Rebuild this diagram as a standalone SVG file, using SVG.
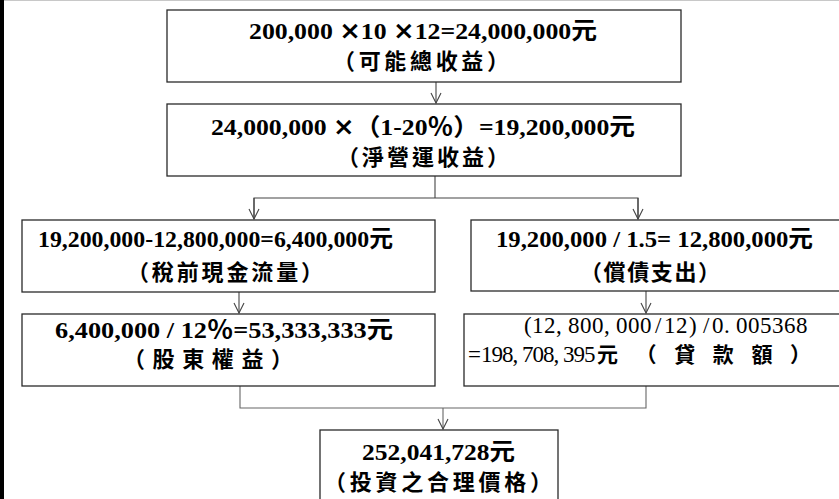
<svg xmlns="http://www.w3.org/2000/svg" width="839" height="499" viewBox="0 0 839 499">
<style>
.box{fill:#fff;stroke:#2a2a2a;stroke-width:1.3}
.t1{font-family:"Liberation Serif","Noto Sans CJK TC",serif;font-weight:bold;font-size:24px;fill:#000;text-anchor:middle}
.x{font-family:"DejaVu Sans",sans-serif;font-weight:bold}
.t2{font-family:"Noto Sans CJK TC","Liberation Serif",sans-serif;font-weight:bold;font-size:22px;fill:#000;text-anchor:middle}
.tm{font-family:"Liberation Serif",serif;font-size:23px;fill:#000}
.tc{font-family:"Noto Sans CJK TC",serif;font-weight:bold;font-size:21px;fill:#000}
.con{fill:none;stroke:#444;stroke-width:1.1}
.con2{fill:none;stroke:#666;stroke-width:1.1}
</style>
<defs>
<marker id="arr" viewBox="-11 -6 12 12" refX="0" refY="0" markerWidth="12" markerHeight="12" markerUnits="userSpaceOnUse" orient="auto">
<path d="M-10,-5 L0,0 L-10,5" fill="none" stroke="#444" stroke-width="1.1"/>
</marker>
</defs>
<rect x="0" y="0" width="839" height="499" fill="#fff"/>
<rect x="0" y="0" width="4" height="499" fill="#000"/>
<line x1="4" y1="0.5" x2="839" y2="0.5" stroke="#c8c8c8" stroke-width="1"/>

<g id="connectors">
<line class="con" x1="436" y1="82" x2="436" y2="103" marker-end="url(#arr)"/>
<polyline class="con" points="435,176 435,198"/>
<polyline class="con" points="254,219 254,198 638,198 638,219"/>
<line class="con" x1="254" y1="198" x2="254" y2="219" marker-end="url(#arr)"/>
<line class="con" x1="638" y1="198" x2="638" y2="219" marker-end="url(#arr)"/>
<line class="con" x1="239" y1="292" x2="239" y2="313" marker-end="url(#arr)"/>
<line class="con" x1="646" y1="291" x2="646" y2="313" marker-end="url(#arr)"/>
<polyline class="con2" points="240,386 240,408 646,408 646,386"/>
<line class="con2" x1="443" y1="408" x2="443" y2="429" marker-end="url(#arr)"/>
</g>

<g id="n1">
<rect class="box" x="167" y="10" width="514" height="72"/>
<text class="t1" x="423" y="39" textLength="348" lengthAdjust="spacingAndGlyphs">200,000 <tspan class="x">×</tspan>10 <tspan class="x">×</tspan>12=24,000,000元</text>
<text class="t2" x="421" y="69" textLength="176" lengthAdjust="spacing">（可能總收益）</text>
</g>

<g id="n2">
<rect class="box" x="167" y="104" width="514" height="72"/>
<text class="t1" x="423" y="135" textLength="424" lengthAdjust="spacingAndGlyphs">24,000,000 <tspan class="x">×</tspan>（1-20％）=19,200,000元</text>
<text class="t2" x="423" y="165" textLength="172" lengthAdjust="spacing">（淨營運收益）</text>
</g>

<g id="n3">
<rect class="box" x="22" y="220" width="413" height="72"/>
<text class="t1" x="215.5" y="247" textLength="355" lengthAdjust="spacingAndGlyphs">19,200,000-12,800,000=6,400,000元</text>
<text class="t2" x="225" y="280" textLength="196" lengthAdjust="spacing">（稅前現金流量）</text>
</g>

<g id="n4">
<rect class="box" x="471" y="220" width="380" height="71"/>
<text class="t1" x="654.5" y="247" textLength="317" lengthAdjust="spacingAndGlyphs">19,200,000 / 1.5= 12,800,000元</text>
<text class="t2" x="650" y="280" textLength="140" lengthAdjust="spacing">（償債支出）</text>
</g>

<g id="n5">
<rect class="box" x="22" y="314" width="413" height="72"/>
<text class="t1" x="224" y="338" textLength="338" lengthAdjust="spacingAndGlyphs">6,400,000 / 12％=53,333,333元</text>
<text class="t2" x="208" y="367" textLength="170" lengthAdjust="spacing">（股東權益）</text>
</g>

<g id="n6">
<rect class="box" x="464" y="314" width="390" height="72"/>
<text class="tm" x="524 532 544 556 568 580 592 604 616 628 640 655 664 676 689 703 712 724 736 748 760 772 784 796" y="333">(12,800,000/12)/0.005368</text>
<text class="tm" y="362"><tspan x="468 481 491.5 502 512.5 522 532.5 543 553.5 563 573.5 584">=198,708,395</tspan><tspan class="tc" x="597" textLength="214" lengthAdjust="spacing">元（貸款額）</tspan></text>
</g>

<g id="n7">
<rect class="box" x="320" y="430" width="238" height="80"/>
<text class="t1" x="438.5" y="460" textLength="153" lengthAdjust="spacingAndGlyphs">252,041,728元</text>
<text class="t2" x="438" y="490" textLength="228" lengthAdjust="spacing">（投資之合理價格）</text>
</g>
</svg>
